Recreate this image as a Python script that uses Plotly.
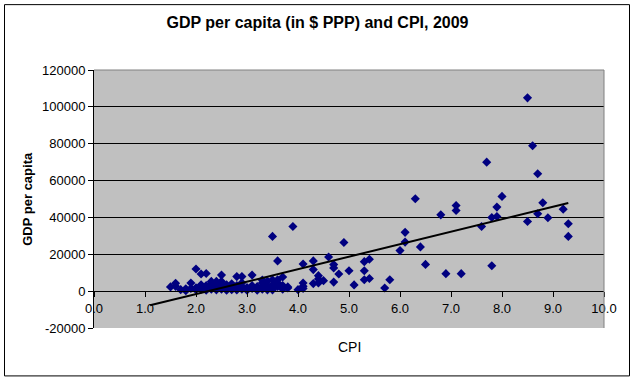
import plotly.graph_objects as go

# CPI score (x) and GDP per capita in $ PPP (y)
cpi = [
    1.5, 1.6, 1.6, 1.7, 1.8, 1.8, 1.9, 1.9, 2.0, 2.0, 2.0,
    2.1, 2.1, 2.1, 2.1, 2.2, 2.2, 2.2, 2.2, 2.3, 2.3, 2.3, 2.3,
    2.4, 2.4, 2.4, 2.4, 2.5, 2.5, 2.5, 2.5, 2.5, 2.6, 2.6, 2.6,
    2.7, 2.7, 2.7, 2.8, 2.8, 2.8, 2.8, 2.9, 2.9, 2.9, 2.9,
    3.0, 3.0, 3.0, 3.1, 3.1, 3.1, 3.2, 3.2, 3.2, 3.3, 3.3, 3.3, 3.3,
    3.4, 3.4, 3.4, 3.4, 3.5, 3.5, 3.5, 3.5, 3.5, 3.6, 3.6, 3.6, 3.6,
    3.7, 3.7, 3.7, 3.8, 3.8, 3.9, 4.0, 4.1, 4.1, 4.1, 4.1,
    4.3, 4.3, 4.3, 4.4, 4.4, 4.5, 4.4, 4.6, 4.7, 4.7, 4.7, 4.8, 4.9,
    5.0, 5.1, 5.3, 5.4, 5.3, 5.3, 5.4, 5.7, 5.8, 6.0, 6.1, 6.1, 6.3,
    6.4, 6.5, 6.8, 6.9, 7.1, 7.1, 7.2, 7.6, 7.7, 7.8, 7.8, 7.9, 7.9,
    8.0, 8.5, 8.5, 8.6, 8.7, 8.7, 8.8, 8.9, 9.2, 9.3, 9.3,
]
gdp = [
    2300, 4300, 2600, 800, 200, 1300, 4400, 1500, 12000, 800, 1800,
    9300, 2000, 1000, 3500, 9600, 3000, 1500, 500, 5300, 2500, 1000, 4000,
    5300, 1500, 3500, 700, 8700, 5300, 2000, 1000, 3000, 3500, 1200, 500,
    2000, 4000, 800, 7900, 1500, 600, 3000, 7900, 1000, 2500, 4500,
    1200, 2000, 500, 8700, 1500, 3000, 1000, 2500, 500, 4400, 1000, 2000, 6000,
    5500, 1500, 700, 3000, 29700, 6200, 1500, 3500, 700, 16400, 6200, 2500, 4500,
    7700, 1000, 3000, 2300, 1700, 35100, 800, 14700, 4400, 2600, 1400,
    16400, 11700, 4100, 6600, 8400, 5700, 4400, 18500, 14400, 12600, 4900, 9300, 26400,
    11100, 3400, 16000, 17300, 11100, 6200, 6900, 1700, 6200, 22000, 26600, 31900, 50100,
    24000, 14500, 41400, 9500, 46500, 43800, 9500, 35100, 70000, 13800, 40000, 40500, 45600,
    51400, 104900, 37800, 78900, 63700, 42000, 48000, 39800, 44500, 36600, 29700,
]

# Linear trendline end points
trend_cpi = [1.1, 9.3]
trend_gdp = [-7700, 47800]

x_ticks = [0, 1, 2, 3, 4, 5, 6, 7, 8, 9, 10]
y_ticks = [-20000, 0, 20000, 40000, 60000, 80000, 100000, 120000]

FONT = "Liberation Sans, Arial, sans-serif"

fig = go.Figure()
fig.add_trace(go.Scatter(
    x=cpi, y=gdp, mode="markers",
    marker=dict(symbol="diamond", size=7, color="#000080",
                line=dict(width=0)),
    showlegend=False, hoverinfo="x+y",
))
fig.add_trace(go.Scatter(
    x=trend_cpi, y=trend_gdp, mode="lines",
    line=dict(color="black", width=2),
    showlegend=False, hoverinfo="skip",
))

W, H = 635, 382
L, R, T, B = 94, 604, 70, 328.5
fig.update_layout(
    width=W, height=H,
    margin=dict(l=L, r=W - R, t=T, b=H - B, pad=0, autoexpand=False),
    paper_bgcolor="white",
    plot_bgcolor="#C0C0C0",
    font=dict(family=FONT, size=13, color="black"),
    title=dict(text="<b>GDP per capita (in $ PPP) and CPI, 2009</b>",
               x=0.5, xref="container", xanchor="center",
               y=1 - 22 / H, yanchor="middle",
               font=dict(size=16, family=FONT, color="black")),
    xaxis=dict(
        range=[0, 10], tickvals=x_ticks,
        ticktext=[f"{v:.1f}" for v in x_ticks],
        showgrid=False, zeroline=False,
        showline=True, linecolor="black", linewidth=1,
        ticks="outside", ticklen=5, tickcolor="black",
        anchor="free", position=(0 - y_ticks[0]) / (y_ticks[-1] - y_ticks[0]),
        tickfont=dict(size=13), automargin=False,
    ),
    yaxis=dict(
        range=[y_ticks[0], y_ticks[-1]], tickvals=y_ticks,
        ticktext=[str(v) for v in y_ticks],
        showgrid=True, gridcolor="black", gridwidth=1,
        zeroline=False,
        showline=True, linecolor="black", linewidth=1,
        ticks="outside", ticklen=5, tickcolor="black",
        tickfont=dict(size=13), automargin=False,
    ),
    annotations=[
        dict(text="CPI", xref="paper", yref="paper",
             x=0.5, y=(B - 348) / (B - T), showarrow=False,
             xanchor="center", yanchor="middle", font=dict(size=14)),
        dict(text="<b>GDP per capita</b>", xref="paper", yref="paper",
             x=(28 - L) / (R - L), y=(B - 199) / (B - T), showarrow=False,
             textangle=-90, xanchor="center", yanchor="middle",
             font=dict(size=13)),
    ],
    shapes=[
        # plot-area border (top and right are grey in the reference)
        dict(type="path", xref="paper", yref="paper",
             path="M 0 1 L 1 1 L 1 0", line=dict(color="#808080", width=1)),
        # outer chart border
        dict(type="rect", xref="paper", yref="paper",
             x0=(4.5 - L) / (R - L), x1=(629.5 - L) / (R - L),
             y0=(B - 376.5) / (B - T), y1=(B - 4.5) / (B - T),
             line=dict(color="black", width=1)),
    ],
)

fig.write_html("out.html",
               config={"displayModeBar": False},
               post_script="document.body.style.margin='0';"
                           "document.body.style.padding='0';")
